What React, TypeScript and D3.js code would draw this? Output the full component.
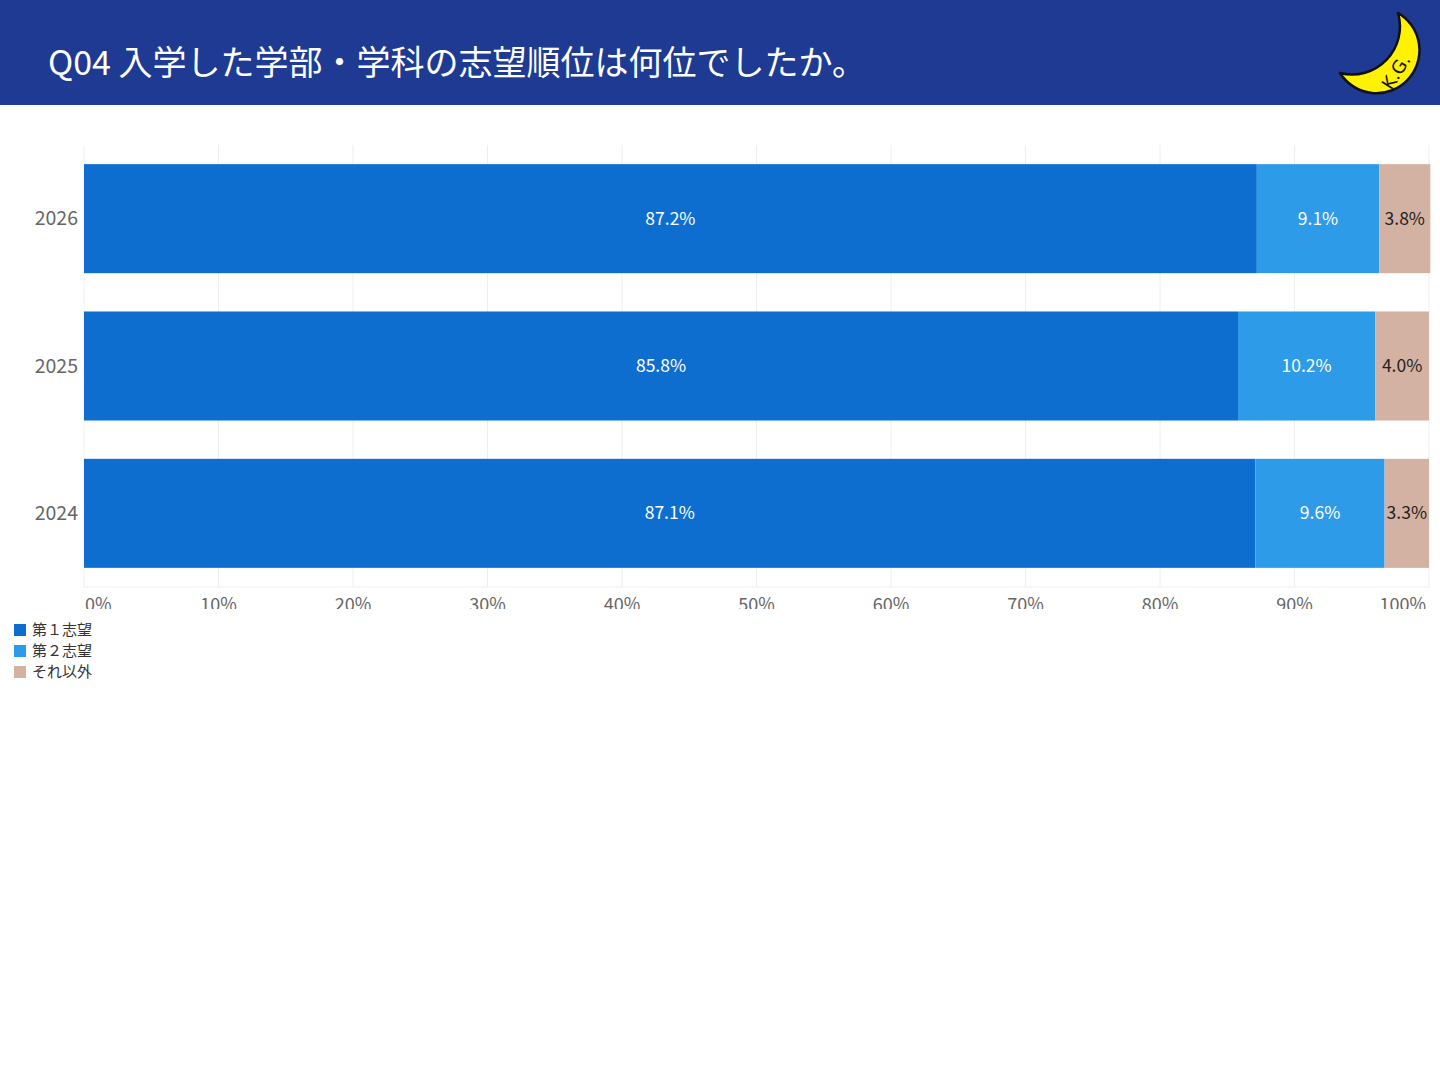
import { useMemo } from "react";
import * as d3 from "d3";

const WIDTH = 1440;
const HEIGHT = 1080;
const MARGIN = { top: 145, right: 11, bottom: 493, left: 84 };
const FONT = "'Noto Sans CJK JP', 'Noto Sans', sans-serif";

const TITLE = "Q04 入学した学部・学科の志望順位は何位でしたか。";
const YEARS = ["2026", "2025", "2024"];
const SERIES = ["第１志望", "第２志望", "それ以外"];
const COLORS = ["#0e6ecf", "#2e9be8", "#d4b2a3"];
const LABEL_COLORS = ["#ffffff", "#ffffff", "#222222"];
const FIRST = [87.2, 85.8, 87.1];
const SECOND = [9.1, 10.2, 9.6];
const OTHER = [3.8, 4.0, 3.3];
const X_TICKS = [0, 10, 20, 30, 40, 50, 60, 70, 80, 90, 100];

// crescent logo in the header
const Moon = () => (
  <g>
    <path
      d="M1398,13 A43,43 0 1,1 1340,73 A48,48 0 0,0 1398,13 Z"
      fill="#fff200"
      stroke="#111"
      strokeWidth={2.5}
      strokeLinejoin="round"
    />
    <text
      transform="translate(1396,72) rotate(-58)"
      dy="0.35em"
      fontFamily="'DejaVu Sans', sans-serif"
      fontSize={18}
      fill="#111"
      textAnchor="middle"
    >
      K.G.
    </text>
  </g>
);

export default function App() {
  const boundsWidth = WIDTH - MARGIN.left - MARGIN.right;
  const boundsHeight = HEIGHT - MARGIN.top - MARGIN.bottom;

  const xScale = useMemo(
    () => d3.scaleLinear().domain([0, 100]).range([0, boundsWidth]),
    [boundsWidth]
  );
  const yScale = useMemo(
    () => d3.scaleBand().domain(YEARS).range([0, boundsHeight]).paddingInner(0.26).paddingOuter(0.13),
    [boundsHeight]
  );

  const rows = YEARS.map((year, i) => ({ year, values: [FIRST[i], SECOND[i], OTHER[i]] }));

  const stacked = rows.map((r) => {
    let acc = 0;
    return r.values.map((v, k) => {
      const seg = { year: r.year, k, x0: acc, x1: acc + v, v };
      acc += v;
      return seg;
    });
  });

  return (
    <svg
      width={WIDTH}
      height={HEIGHT}
      style={{ position: "absolute", left: 0, top: 0, background: "#fff" }}
      fontFamily={FONT}
    >
      <defs>
        <clipPath id="xlabels">
          <rect x={-20} y={0} width={WIDTH} height={609 - MARGIN.top} />
        </clipPath>
      </defs>

      {/* header band */}
      <rect x={0} y={0} width={WIDTH} height={105} fill="#1e3a92" />
      <text x={48} y={75} fill="#fff" fontSize={34} fontFamily={FONT}>
        {TITLE}
      </text>
      <Moon />

      <g transform={`translate(${MARGIN.left},${MARGIN.top})`}>
        {X_TICKS.map((t) => (
          <line
            key={t}
            x1={xScale(t)}
            x2={xScale(t)}
            y1={0}
            y2={boundsHeight}
            stroke="#eeeeee"
            strokeWidth={1}
          />
        ))}
        <line x1={0} x2={boundsWidth} y1={boundsHeight} y2={boundsHeight} stroke="#eeeeee" />

        {stacked.map((segs) =>
          segs.map((s) => {
            const x = xScale(s.x0);
            const w = xScale(s.x1) - xScale(s.x0);
            const y = yScale(s.year) ?? 0;
            const h = yScale.bandwidth();
            return (
              <g key={`${s.year}-${s.k}`}>
                <rect x={x} y={y} width={w} height={h} fill={COLORS[s.k]} />
                <text
                  x={x + w / 2}
                  y={y + h / 2}
                  dy="0.35em"
                  textAnchor="middle"
                  fontSize={17.5}
                  fill={LABEL_COLORS[s.k]}
                >
                  {`${s.v.toFixed(1)}%`}
                </text>
              </g>
            );
          })
        )}

        {YEARS.map((yr) => (
          <text
            key={yr}
            x={-6}
            y={(yScale(yr) ?? 0) + yScale.bandwidth() / 2}
            dy="0.35em"
            textAnchor="end"
            fontSize={19.5}
            fill="#666"
          >
            {yr}
          </text>
        ))}

        <g clipPath="url(#xlabels)">
          {X_TICKS.map((t, i) => (
            <text
              key={t}
              x={i === 0 ? xScale(t) + 1 : i === X_TICKS.length - 1 ? xScale(t) - 3 : xScale(t)}
              y={boundsHeight + 24}
              textAnchor={i === 0 ? "start" : i === X_TICKS.length - 1 ? "end" : "middle"}
              fontSize={18}
              fill="#666"
            >
              {`${t}%`}
            </text>
          ))}
        </g>
      </g>

      {/* legend */}
      {SERIES.map((name, i) => (
        <g key={name} transform={`translate(14,${624 + i * 21})`}>
          <rect x={0} y={0} width={12} height={12} fill={COLORS[i]} />
          <text x={18} y={6} dy="0.35em" fontSize={15} fill="#333">
            {name}
          </text>
        </g>
      ))}
    </svg>
  );
}
